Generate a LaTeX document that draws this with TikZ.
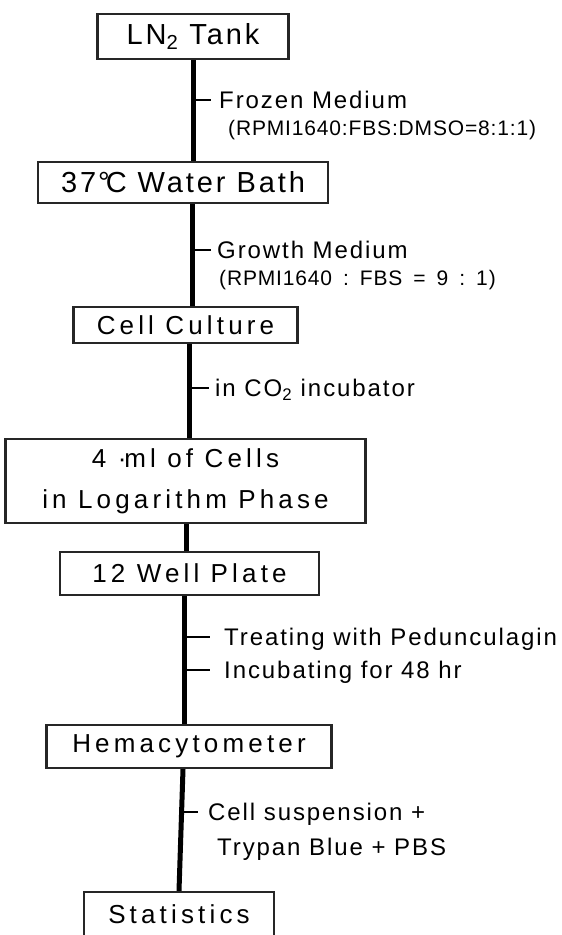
\documentclass[tikz,border=0pt]{standalone}
\usepackage{fontspec}
\setmainfont{Liberation Sans}
\newfontfamily\boxfont{Liberation Sans}[LetterSpace=16]
\newfontfamily\bigboxfont{Liberation Sans}[LetterSpace=10]
\newfontfamily\labfont{Liberation Sans}[LetterSpace=8]
\newfontfamily\smfont{Liberation Sans}[LetterSpace=4]
\begin{document}
\begin{tikzpicture}[x=1pt,y=-1pt,
  stepbox/.style={draw=black!85, line width=2.2pt, inner sep=0pt, align=center,
    font=\boxfont\fontsize{26}{41}\selectfont},
  bigbox/.style={stepbox, font=\bigboxfont\fontsize{29}{34}\selectfont},
  flow/.style={line width=5pt},
  tickline/.style={line width=1.5pt},
  lab/.style={anchor=base west, inner sep=0pt, font=\labfont\fontsize{24}{28}\selectfont},
  smlab/.style={anchor=base west, inner sep=0pt, font=\smfont\fontsize{21}{25}\selectfont}]
\useasboundingbox (0,0) rectangle (562,935);
\fill[white] (0,0) rectangle (562,935);
\clip (0,0) rectangle (562,935);

% boxes
\node[bigbox, minimum width=191pt, minimum height=45pt] (n1) at (193,36.5) {LN\textsubscript{2} Tank};
\node[bigbox, minimum width=290pt, minimum height=41pt] (n2) at (183,182.5) {37\kern2pt°\kern-4pt C Water Bath};
\node[stepbox, minimum width=224pt, minimum height=36pt] (n3) at (185.5,325) {Cell Culture};
\node[stepbox, minimum width=360pt, minimum height=84pt] (n4) at (185.5,481) {4 ·\kern-2pt ml of Cells\\in Logarithm Phase};
\node[stepbox, minimum width=259pt, minimum height=43pt] (n5) at (189.5,573.5) {12 Well Plate};
\node[stepbox, minimum width=285pt, minimum height=43pt] (n6) at (189,746.5) {Hemacytometer};
\node[stepbox, minimum width=190pt, minimum height=44pt] (n7) at (179,914) {Statistics};

% connector x positions
\coordinate (x1) at (193.5,0);
\coordinate (x2) at (192,0);
\coordinate (x3) at (189,0);
\coordinate (x4) at (186.5,0);
\coordinate (x5) at (184.6,0);
\coordinate (x6a) at (183,0);
\coordinate (x6b) at (179,0);

\draw[flow] (n1.south -| x1) -- (n2.north -| x1);
\draw[flow] (n2.south -| x2) -- (n3.north -| x2);
\draw[flow] (n3.south -| x3) -- (n4.north -| x3);
\draw[flow] (n4.south -| x4) -- (n5.north -| x4);
\draw[flow] (n5.south -| x5) -- (n6.north -| x5);
\draw[flow] (n6.south -| x6a) -- (n7.north -| x6b);

% labels
\node[lab] (l1) at (219,108.6) {Frozen Medium};
\node[smlab] (l1b) at (228,135.5) {(RPMI1640:FBS:DMSO=8:1:1)};
\node[lab] (l2) at (217,258.6) {Growth Medium};
\node[smlab] (l2b) at (219,285.5) {(RPMI1640\hspace{11pt}:\hspace{11pt}FBS\hspace{11pt}=\hspace{11pt}9\hspace{11pt}:\hspace{11pt}1)};
\node[lab] (l3) at (215,396.6) {in CO\textsubscript{2} incubator};
\node[lab] (l4) at (224,645.6) {Treating with Pedunculagin};
\node[lab] (l5) at (224,678.6) {Incubating for 48 hr};
\node[lab] (l6) at (208,820.6) {Cell suspension +};
\node[lab] (l6b) at (217,855.6) {Trypan Blue + PBS};

% ticks
\coordinate (k1) at (193.5,100);
\coordinate (k2) at (192,250);
\coordinate (k3) at (189,388);
\coordinate (k4) at (184.6,637);
\coordinate (k5) at (184.6,670);
\coordinate (k6) at (181,812);
\draw[tickline] (k1) -- ([xshift=-8pt]k1 -| l1.west);
\draw[tickline] (k2) -- ([xshift=-6pt]k2 -| l2.west);
\draw[tickline] (k3) -- ([xshift=-6pt]k3 -| l3.west);
\draw[tickline] (k4) -- ([xshift=-14pt]k4 -| l4.west);
\draw[tickline] (k5) -- ([xshift=-14pt]k5 -| l5.west);
\draw[tickline] (k6) -- ([xshift=-10pt]k6 -| l6.west);
\end{tikzpicture}
\end{document}
